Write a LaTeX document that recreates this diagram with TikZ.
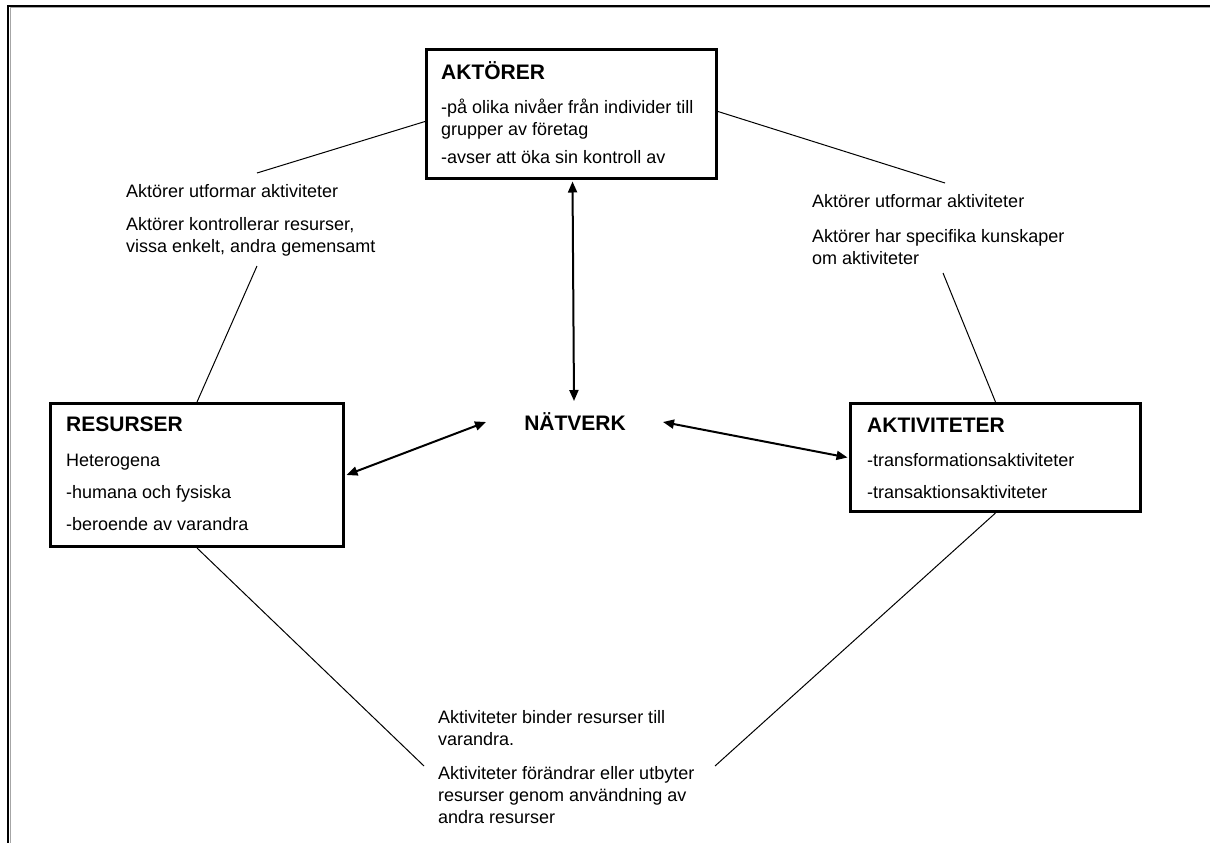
\documentclass[tikz,border=0pt]{standalone}
\usepackage{fontspec}
\setmainfont{Liberation Sans}
\usetikzlibrary{arrows.meta}
\begin{document}
\begin{tikzpicture}[x=1pt,y=-1pt,
  boxnode/.style={draw,line width=3pt,rectangle,inner sep=0pt,anchor=north west},
  ttl/.style={font=\fontsize{21}{24}\selectfont\bfseries,inner sep=0pt,anchor=base west},
  txt/.style={font=\fontsize{18}{22}\selectfont,inner sep=0pt,anchor=base west},
  thinline/.style={line width=1pt},
  arr/.style={line width=2pt,{Triangle[length=11pt,width=9pt]}-{Triangle[length=11pt,width=9pt]}}]
\useasboundingbox (0,0) rectangle (1210,843);
% frame
\draw[line width=1pt,black!35] (10,843) -- (10,8) -- (1210,8);
\draw[line width=2pt] (8,843) -- (8,6) -- (1210,6);
% boxes
\node[boxnode,minimum width=290pt,minimum height=129pt] (akt) at (425,48) {};
\node[boxnode,minimum width=293pt,minimum height=143pt] (res) at (49,402) {};
\node[boxnode,minimum width=290pt,minimum height=108pt] (akv) at (849,402) {};
% box texts
\node[ttl] (aktT) at (441,79.5) {AKTÖRER};
\node[txt] (aktA) at (441,113) {-på olika nivåer från individer till};
\node[txt] (aktB) at (441,135) {grupper av företag};
\node[txt] (aktC) at (441,163) {-avser att öka sin kontroll av};
\node[ttl] (resT) at (66,431.5) {RESURSER};
\node[txt] (resA) at (66,466) {Heterogena};
\node[txt] (resB) at (66,498) {-humana och fysiska};
\node[txt] (resC) at (66,530) {-beroende av varandra};
\node[ttl] (akvT) at (867,432.5) {AKTIVITETER};
\node[txt] (akvA) at (867,466) {-transformationsaktiviteter};
\node[txt] (akvB) at (867,498) {-transaktionsaktiviteter};
% centre
\node[font=\fontsize{21}{24}\selectfont\bfseries,inner sep=0pt] (nv) at (575,422) {NÄTVERK};
% edge labels
\node[txt] (l1a) at (126,197) {Aktörer utformar aktiviteter};
\node[txt] (l1b) at (126,230) {Aktörer kontrollerar resurser,};
\node[txt] (l1c) at (126,252) {vissa enkelt, andra gemensamt};
\node[txt] (l2a) at (812,207) {Aktörer utformar aktiviteter};
\node[txt] (l2b) at (812,242) {Aktörer har specifika kunskaper};
\node[txt] (l2c) at (812,264) {om aktiviteter};
\node[txt] (l3a) at (438,723) {Aktiviteter binder resurser till};
\node[txt] (l3b) at (438,745) {varandra.};
\node[txt] (l3c) at (438,779) {Aktiviteter förändrar eller utbyter};
\node[txt] (l3d) at (438,801) {resurser genom användning av};
\node[txt] (l3e) at (438,823) {andra resurser};
% free ends
\coordinate (c1) at (257,173);
\coordinate (c2) at (257,266);
\coordinate (c3) at (945,183);
\coordinate (c4) at (943,273);
\coordinate (c5) at (424,766);
\coordinate (c6) at (715,766);
\coordinate (nvT) at (574,401);
\coordinate (nvL) at (486,422);
\coordinate (nvR) at (663,422);
% thin connectors
\draw[thinline] ([yshift=-7.5pt]akt.west) -- (c1);
\draw[thinline] (c2) -- (res.north);
\draw[thinline] ([yshift=2.5pt]akt.east) -- (c3);
\draw[thinline] (c4) -- (akv.north);
\draw[thinline] (res.south) -- (c5);
\draw[thinline] (akv.south) -- (c6);
% arrows
\draw[arr,shorten <=1.5pt] ([xshift=1pt]akt.south) -- (nvT);
\draw[arr] (nvL) -- ([xshift=1.5pt]res.east);
\draw[arr] (nvR) -- ([xshift=-1.5pt]akv.west);
\end{tikzpicture}
\end{document}
